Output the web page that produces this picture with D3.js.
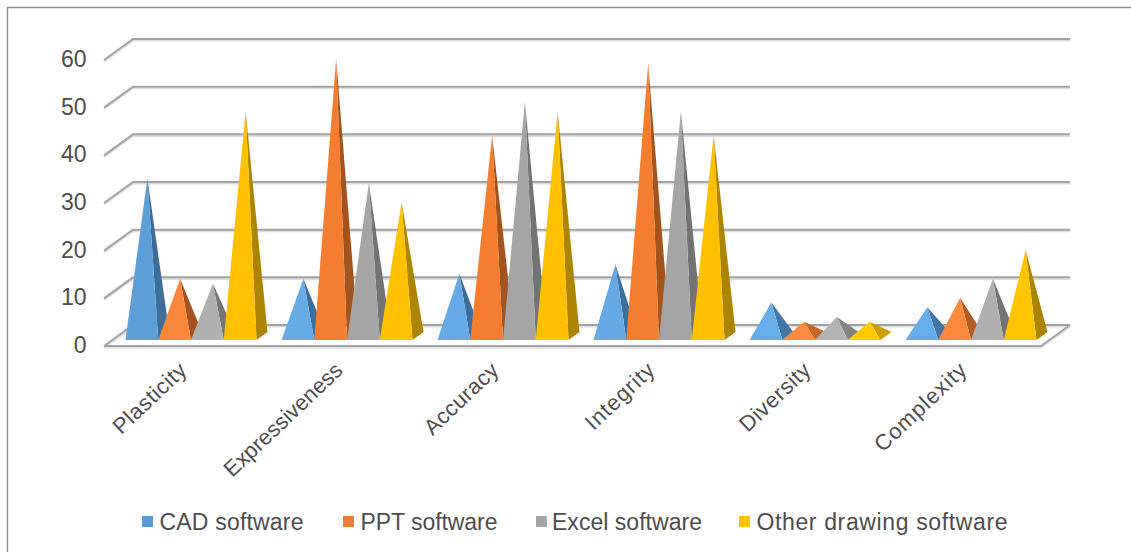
<!DOCTYPE html>
<html>
<head>
<meta charset="utf-8">
<style>
  html, body { margin: 0; padding: 0; background: #fff; }
  svg { display: block; }
  text { font-family: "Liberation Sans", Arial, sans-serif; fill: #4d4d4d; }
</style>
<script src="https://cdn.jsdelivr.net/npm/d3@7"></script>
</head>
<body>
<svg id="chart" width="1131" height="552"></svg>
<script>
// Survey results per quality, one array per drawing tool
const categories = ["Plasticity", "Expressiveness", "Accuracy", "Integrity", "Diversity", "Complexity"];
const seriesNames = ["CAD software", "PPT software", "Excel software", "Other drawing software"];
const cadValues = [33, 12, 13, 15, 7, 6];
const pptValues = [12, 58, 42, 57, 3, 8];
const excelValues = [11, 32, 49, 47, 4, 12];
const otherValues = [47, 28, 47, 42, 3, 18];
const seriesValues = [cadValues, pptValues, excelValues, otherValues];
const yTicks = [0, 10, 20, 30, 40, 50, 60];

// Face shading: lit front and shaded side, from shallow to steep pyramids
const frontShallow = ["#6ab1f0", "#ff8d40", "#b6b6b6", "#ffcc00"];
const frontSteep = ["#5f9fd8", "#f47d30", "#a5a5a5", "#ffc000"];
const sideShallow = ["#4a80b3", "#cf6e2b", "#8d8d8d", "#dba600"];
const sideSteep = ["#3d6e9b", "#a3531d", "#737373", "#ad8400"];
const legendColors = ["#5b9bd5", "#ed7d31", "#a5a5a5", "#ffc000"];

const svg = d3.select("#chart");

// Oblique projection: the back wall is shifted from the front plane by this depth
const wallDx = 29, wallDy = -21;
const floorLeft = 104, floorRight = 1041;
const frontY = d3.scaleLinear().domain([0, 60]).range([346, 60]);
const backY = v => frontY(v) + wallDy;

// Pyramid bases sit on a row inside the floor
const baseFrontY = 340;
const baseDx = 11, baseDy = -8;
const heightScale = d3.scaleLinear().domain([0, 60]).range([0, 286.8]);
const group = d3.scaleBand().domain(categories).range([floorLeft + 9, floorRight + 8]).paddingInner(0).paddingOuter(0);
const member = d3.scaleBand().domain(d3.range(seriesNames.length))
  .range([(group.bandwidth() - 131) / 2, (group.bandwidth() + 131) / 2]);

// Chart frame, open on the right and bottom
svg.append("path").attr("d", "M7.5,552V7.5H1131").attr("fill", "none").attr("stroke", "#8f8f8f").attr("stroke-width", 1.4);

// Gridlines on the back wall with the diagonal return to the front plane
const grid = svg.append("g").attr("fill", "none");
for (const [color, width, shift] of [["#dedede", 2, 1.6], ["#a3a3a3", 2, 0]]) {
  const layer = grid.append("g").attr("stroke", color).attr("stroke-width", width).attr("transform", `translate(0,${shift})`);
  layer.selectAll("path").data(yTicks).join("path")
    .attr("d", v => d3.line()([[floorLeft, frontY(v)], [floorLeft + wallDx, backY(v)], [floorRight + wallDx, backY(v)]]));
  // Front and right edges of the floor
  layer.append("path").attr("d", d3.line()([
    [floorLeft, frontY(0)], [floorRight, frontY(0)], [floorRight + wallDx, backY(0)]
  ]));
}

// Pyramids, left to right so each one overlaps its neighbour's shaded side
const shape = d3.line();
categories.forEach((cat, c) => {
  seriesNames.forEach((name, s) => {
    const v = seriesValues[s][c];
    const x0 = group(cat) + member(s);
    const x1 = x0 + member.bandwidth();
    const apex = [(x0 + x1) / 2 + baseDx / 2, baseFrontY + baseDy / 2 - heightScale(v)];
    const frontT = Math.min(v / 30, 1);
    const sideT = Math.min(v / 12, 1);
    const g = svg.append("g");
    g.append("path")
      .attr("d", shape([[x1, baseFrontY], [x1 + baseDx, baseFrontY + baseDy], apex]) + "Z")
      .attr("fill", d3.interpolateRgb(sideShallow[s], sideSteep[s])(sideT));
    g.append("path")
      .attr("d", shape([[x0, baseFrontY], [x1, baseFrontY], apex]) + "Z")
      .attr("fill", d3.interpolateRgb(frontShallow[s], frontSteep[s])(frontT));
  });
});

// Value axis labels
svg.append("g").attr("text-anchor", "end").attr("font-size", 23)
  .selectAll("text").data(yTicks).join("text")
  .attr("x", 86.5).attr("y", v => frontY(v) + 7).text(v => v);

// Category labels, slanted and ending under each group; letter spacing evens out their run lengths
const labelStretch = [1.06, 1.0, 1.03, 1.1, 1.05, 1.08];
const labels = svg.append("g").attr("text-anchor", "end").attr("font-size", 22)
  .selectAll("text").data(categories).join("text")
  .attr("transform", d => `translate(${group(d) + group.bandwidth() / 2 - 3},${372}) rotate(-43.5)`)
  .text(d => d);
labels.attr("textLength", function (d, i) { return this.getComputedTextLength() * labelStretch[i]; });

// Legend
const legendMarkX = [142, 343, 536, 739];
const legendTextWidth = [144, 137, 150, 251];
const legend = svg.append("g").selectAll("g").data(seriesNames).join("g");
legend.append("rect")
  .attr("x", (d, i) => legendMarkX[i]).attr("y", 516).attr("width", 11).attr("height", 11)
  .attr("fill", (d, i) => legendColors[i]);
legend.append("text")
  .attr("x", (d, i) => legendMarkX[i] + (i === 2 ? 16 : 17.5)).attr("y", 529.5).attr("font-size", 23)
  .attr("textLength", (d, i) => legendTextWidth[i]).text(d => d);
</script>
</body>
</html>
